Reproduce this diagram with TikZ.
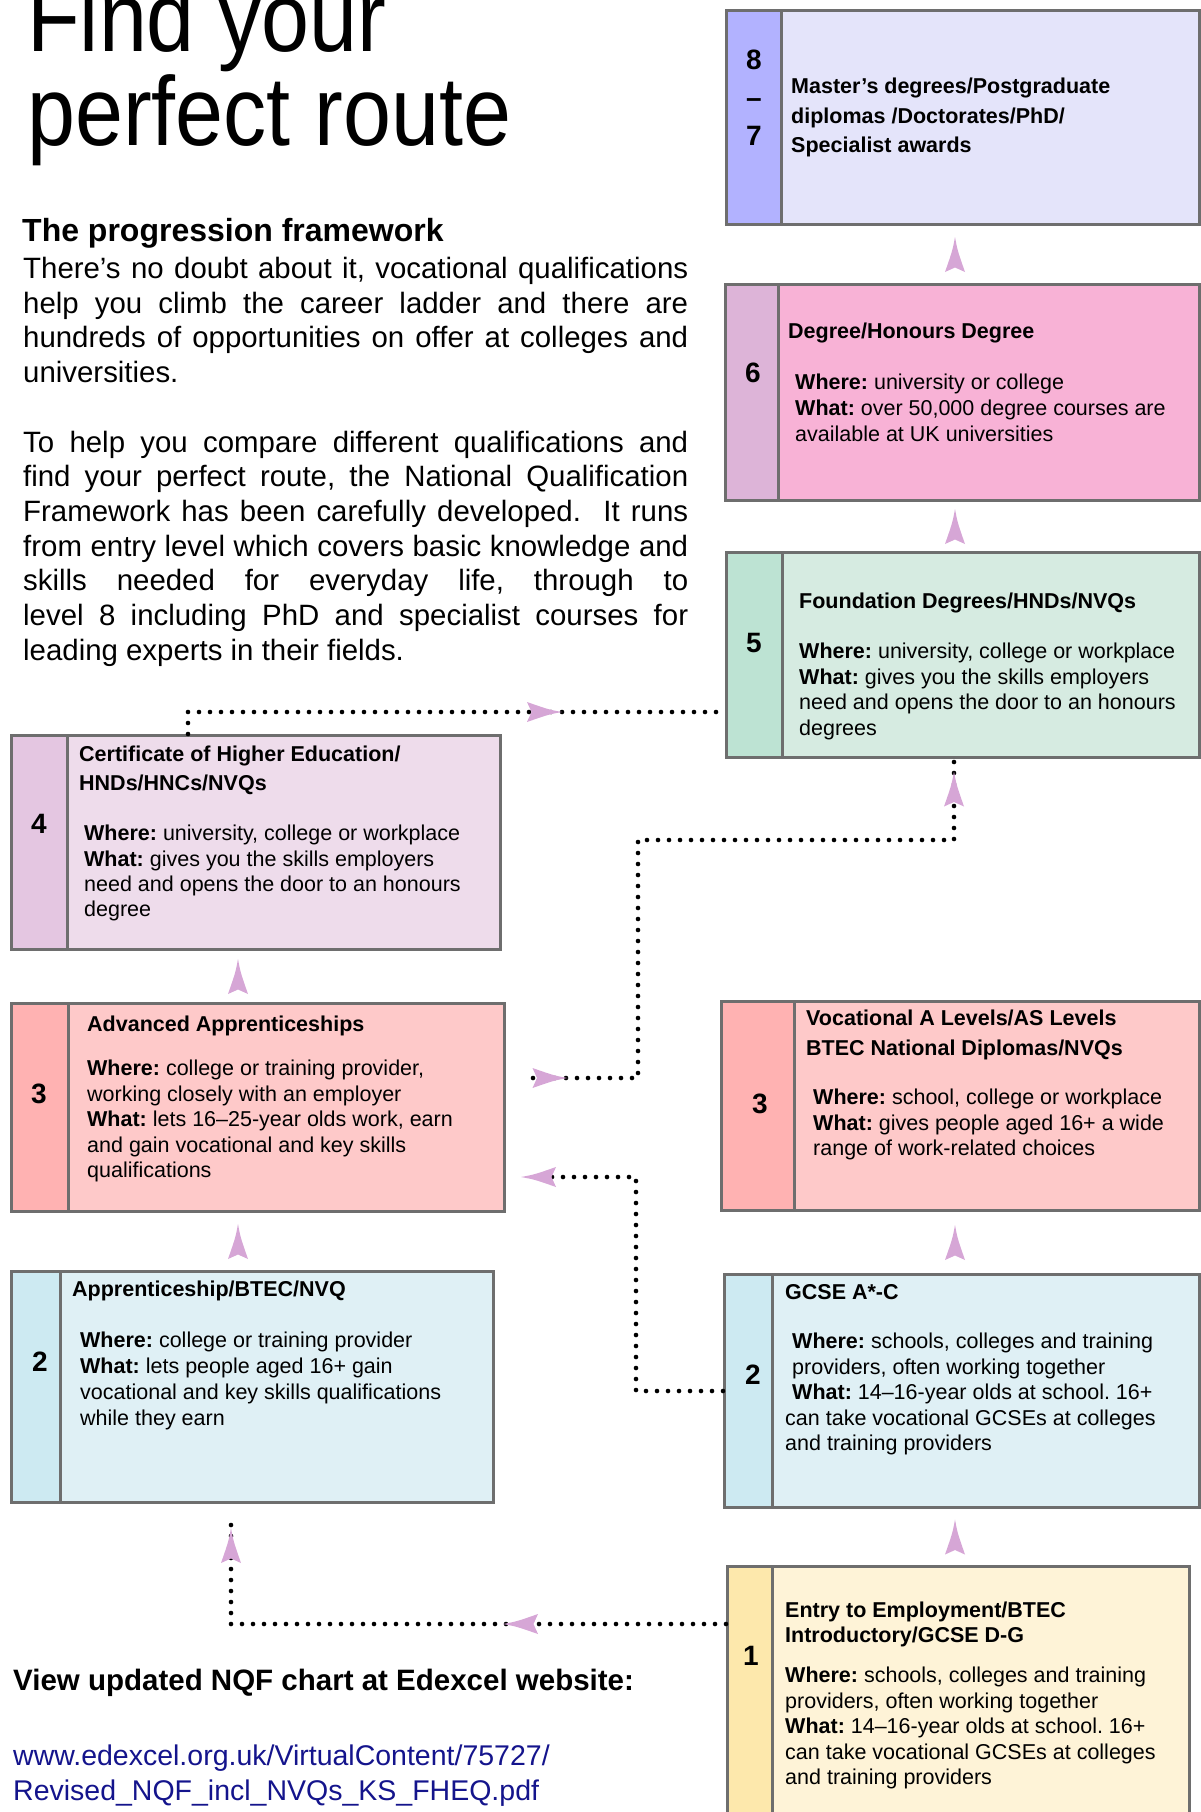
\documentclass[tikz,border=0pt]{standalone}
\usepackage{fontspec}
\setmainfont{Liberation Sans}
\newfontfamily\titlefont[FakeStretch=0.88]{Liberation Sans}
\usepackage{xcolor}
\usepackage{tikz}
\usetikzlibrary{positioning,calc,decorations.markings}

\definecolor{strip87}{RGB}{178,178,255}
\definecolor{fill87}{RGB}{228,228,250}
\definecolor{strip6}{RGB}{221,180,216}
\definecolor{fill6}{RGB}{248,178,214}
\definecolor{strip5}{RGB}{189,227,211}
\definecolor{fill5}{RGB}{214,235,225}
\definecolor{strip4}{RGB}{228,198,225}
\definecolor{fill4}{RGB}{238,220,235}
\definecolor{strip3}{RGB}{255,178,178}
\definecolor{fill3}{RGB}{254,201,201}
\definecolor{strip2}{RGB}{205,234,242}
\definecolor{fill2}{RGB}{223,240,245}
\definecolor{strip1}{RGB}{253,232,172}
\definecolor{fill1}{RGB}{254,243,215}
\definecolor{edge}{RGB}{110,110,110}
\definecolor{tipcol}{RGB}{214,166,214}
\definecolor{linkblue}{RGB}{20,20,140}

\newcommand{\liftmark}{\fill[tipcol] (17.5pt,0pt) .. controls (4pt,2.5pt) .. (-17.5pt,10pt) -- (-13pt,0pt) -- (-17.5pt,-10pt) .. controls (4pt,-2.5pt) .. (17.5pt,0pt) -- cycle;}
\AtBeginDocument{\frenchspacing}

\begin{document}
\begin{tikzpicture}[
    x=1pt, y=-1pt,
    box/.style={rectangle, draw=edge, line width=3pt, inner sep=0pt, anchor=north west},
    num/.style={inner sep=0pt, align=center, font=\bfseries\fontsize{28pt}{38pt}\selectfont},
    head/.style={anchor=north west, inner sep=0pt, align=left, font=\bfseries\fontsize{21.5pt}{29.5pt}\selectfont},
    body/.style={anchor=north west, inner sep=0pt, align=left, font=\fontsize{21.5pt}{25.5pt}\selectfont},
    dotline/.style={line width=4.6pt, dash pattern=on 0pt off 11pt, line cap=round},
    tipat/.style={postaction={decorate, decoration={markings, mark=at position #1 with {\liftmark}}}},
    lift/.style={tipat=0.5}
]
\useasboundingbox (0,0) rectangle (1200,1812);

% Title and introduction
\node[anchor=base west, inner sep=0pt, font=\titlefont\fontsize{98pt}{94pt}\selectfont] (find) at (27,51) {Find your};
\node[anchor=base west, inner sep=0pt, font=\titlefont\fontsize{98pt}{94pt}\selectfont] (route) at (27,145) {perfect route};
\node[anchor=base west, inner sep=0pt, font=\bfseries\fontsize{32pt}{38pt}\selectfont] (frame) at (22,241) {The progression framework};
\node[anchor=north west, inner sep=0pt, text width=665pt, align=justify, font=\fontsize{29.4pt}{34.7pt}\selectfont] (intro) at (23,257) {%
There’s no doubt about it, vocational qualifications\linebreak
help you climb the career ladder and there are\linebreak
hundreds of opportunities on offer at colleges and\linebreak
universities.\par\vspace{34.7pt}
To help you compare different qualifications and\linebreak
find your perfect route, the National Qualification\linebreak
Framework has been carefully developed.\ \ It runs\linebreak
from entry level which covers basic knowledge and\linebreak
skills needed for everyday life, through to\linebreak
level 8 including PhD and specialist courses for\linebreak
leading experts in their fields.};

% Levels on the right
\node[box, fill=fill87, minimum width=473pt, minimum height=214pt] (b87) at (725,9) {};
\node[box, fill=strip87, minimum width=55pt, minimum height=214pt] (s87) at (725,9) {};
\node[num] (n87) at (754,98) {8\\–\\7};
\node[head] (h87) at (791,78) {Master’s degrees/Postgraduate\\diplomas /Doctorates/PhD/\\Specialist awards};

\node[box, fill=fill6, minimum width=474pt, minimum height=216pt] (b6) at (724,283) {};
\node[box, fill=strip6, minimum width=53pt, minimum height=216pt] (s6) at (724,283) {};
\node[num] (n6) at (753,373) {6};
\node[head] (h6) at (788,323) {Degree/Honours Degree};
\node[body, font=\fontsize{21.5pt}{26pt}\selectfont] (w6) at (795,374) {\textbf{Where:} university or college\\\textbf{What:} over 50,000 degree courses are\\available at UK universities};

\node[box, fill=fill5, minimum width=473pt, minimum height=205pt] (b5) at (725,551) {};
\node[box, fill=strip5, minimum width=56pt, minimum height=205pt] (s5) at (725,551) {};
\node[num] (n5) at (754,643) {5};
\node[head] (h5) at (799,593) {Foundation Degrees/HNDs/NVQs};
\node[body] (w5) at (799,643) {\textbf{Where:} university, college or workplace\\\textbf{What:} gives you the skills employers\\need and opens the door to an honours\\degrees};

\node[box, fill=fill3, minimum width=478pt, minimum height=209pt] (b3b) at (720,1000) {};
\node[box, fill=strip3, minimum width=73pt, minimum height=209pt] (s3b) at (720,1000) {};
\node[num] (n3b) at (760,1104) {3};
\node[head, font=\bfseries\fontsize{21.5pt}{30pt}\selectfont] (h3b) at (806,1010) {Vocational A Levels/AS Levels\\BTEC National Diplomas/NVQs};
\node[body] (w3b) at (813,1089) {\textbf{Where:} school, college or workplace\\\textbf{What:} gives people aged 16+ a wide\\range of work-related choices};

\node[box, fill=fill2, minimum width=475pt, minimum height=233pt] (b2b) at (723,1273) {};
\node[box, fill=strip2, minimum width=48pt, minimum height=233pt] (s2b) at (723,1273) {};
\node[num] (n2b) at (753,1375) {2};
\node[head] (h2b) at (785,1284) {GCSE A*-C};
\node[body] (w2b) at (785,1333) {\hspace*{7pt}\textbf{Where:} schools, colleges and training\\\hspace*{7pt}providers, often working together\\\hspace*{7pt}\textbf{What:} 14–16-year olds at school. 16+\\can take vocational GCSEs at colleges\\and training providers};

\node[box, fill=fill1, minimum width=462pt, minimum height=265pt] (b1) at (726,1565) {};
\node[box, fill=strip1, minimum width=45pt, minimum height=265pt] (s1) at (726,1565) {};
\node[num] (n1) at (751,1656) {1};
\node[head, font=\bfseries\fontsize{21.5pt}{25pt}\selectfont] (h1) at (785,1602) {Entry to Employment/BTEC\\Introductory/GCSE D-G};
\node[body] (w1) at (785,1667) {\textbf{Where:} schools, colleges and training\\providers, often working together\\\textbf{What:} 14–16-year olds at school. 16+\\can take vocational GCSEs at colleges\\and training providers};

% Levels on the left
\node[box, fill=fill4, minimum width=489pt, minimum height=214pt] (b4) at (10,734) {};
\node[box, fill=strip4, minimum width=56pt, minimum height=214pt] (s4) at (10,734) {};
\node[num] (n4) at (39,824) {4};
\node[head, font=\bfseries\fontsize{21.5pt}{29pt}\selectfont] (h4) at (79,746) {Certificate of Higher Education/\\HNDs/HNCs/NVQs};
\node[body, font=\fontsize{21.5pt}{25.3pt}\selectfont] (w4) at (84,825) {\textbf{Where:} university, college or workplace\\\textbf{What:} gives you the skills employers\\need and opens the door to an honours\\degree};

\node[box, fill=fill3, minimum width=493pt, minimum height=208pt] (b3a) at (10,1002) {};
\node[box, fill=strip3, minimum width=57pt, minimum height=208pt] (s3a) at (10,1002) {};
\node[num] (n3a) at (39,1094) {3};
\node[head] (h3a) at (87,1016) {Advanced Apprenticeships};
\node[body] (w3a) at (87,1060) {\textbf{Where:} college or training provider,\\working closely with an employer\\\textbf{What:} lets 16–25-year olds work, earn\\and gain vocational and key skills\\qualifications};

\node[box, fill=fill2, minimum width=482pt, minimum height=231pt] (b2a) at (10,1270) {};
\node[box, fill=strip2, minimum width=49pt, minimum height=231pt] (s2a) at (10,1270) {};
\node[num] (n2a) at (40,1362) {2};
\node[head] (h2a) at (72,1281) {Apprenticeship/BTEC/NVQ};
\node[body, font=\fontsize{21.5pt}{26pt}\selectfont] (w2a) at (80,1332) {\textbf{Where:} college or training provider\\\textbf{What:} lets people aged 16+ gain\\vocational and key skills qualifications\\while they earn};

% Web link
\node[anchor=base west, inner sep=0pt, font=\bfseries\fontsize{29.5pt}{35pt}\selectfont] (view) at (13,1690) {View updated NQF chart at Edexcel website:};
\node[anchor=base west, inner sep=0pt, text=linkblue, font=\fontsize{28.5pt}{35pt}\selectfont] (url1) at (13,1765) {www.edexcel.org.uk/VirtualContent/75727/};
\node[anchor=base west, inner sep=0pt, text=linkblue, font=\fontsize{28.5pt}{35pt}\selectfont] (url2) at (13,1800) {Revised\_NQF\_incl\_NVQs\_KS\_FHEQ.pdf};

% Step-up arrows
\coordinate (rc) at (955,0);
\coordinate (lc) at (238,0);
\path[lift] (rc |- b6.north) -- (rc |- b87.south);
\path[lift] (rc |- b5.north) -- (rc |- b6.south);
\path[lift] (rc |- b2b.north) -- (rc |- b3b.south);
\path[lift] (rc |- b1.north) -- (rc |- b2b.south);
\path[lift] (lc |- b3a.north) -- (lc |- b4.south);
\path[lift] (lc |- b2a.north) -- (lc |- b3a.south);

% Dotted routes
\coordinate (ka) at (188,712);
\coordinate (kb1) at (638,1078);
\coordinate (kb2) at (954,840);
\coordinate (kc) at (636,1177);
\coordinate (kd) at (231,1624);
\draw[dotline, tipat=378.5pt] (ka |- b4.north) -- (ka) -- (ka -| b5.west);
\draw[dotline, shorten <=27pt, tipat=44pt, tipat=-30pt] (kb1 -| b3a.east) -- (kb1) |- (kb2) -- (kb2 |- b5.south);
\draw[dotline, shorten >=30pt, tipat=-32.5pt] (b2b.west) -| (kc) -- (kc -| b3a.east);
\draw[dotline, shorten >=13pt, tipat=205.5pt, tipat=-41.5pt] (kd -| b1.west) -- (kd) -- (kd |- b2a.south);

\end{tikzpicture}
\end{document}
